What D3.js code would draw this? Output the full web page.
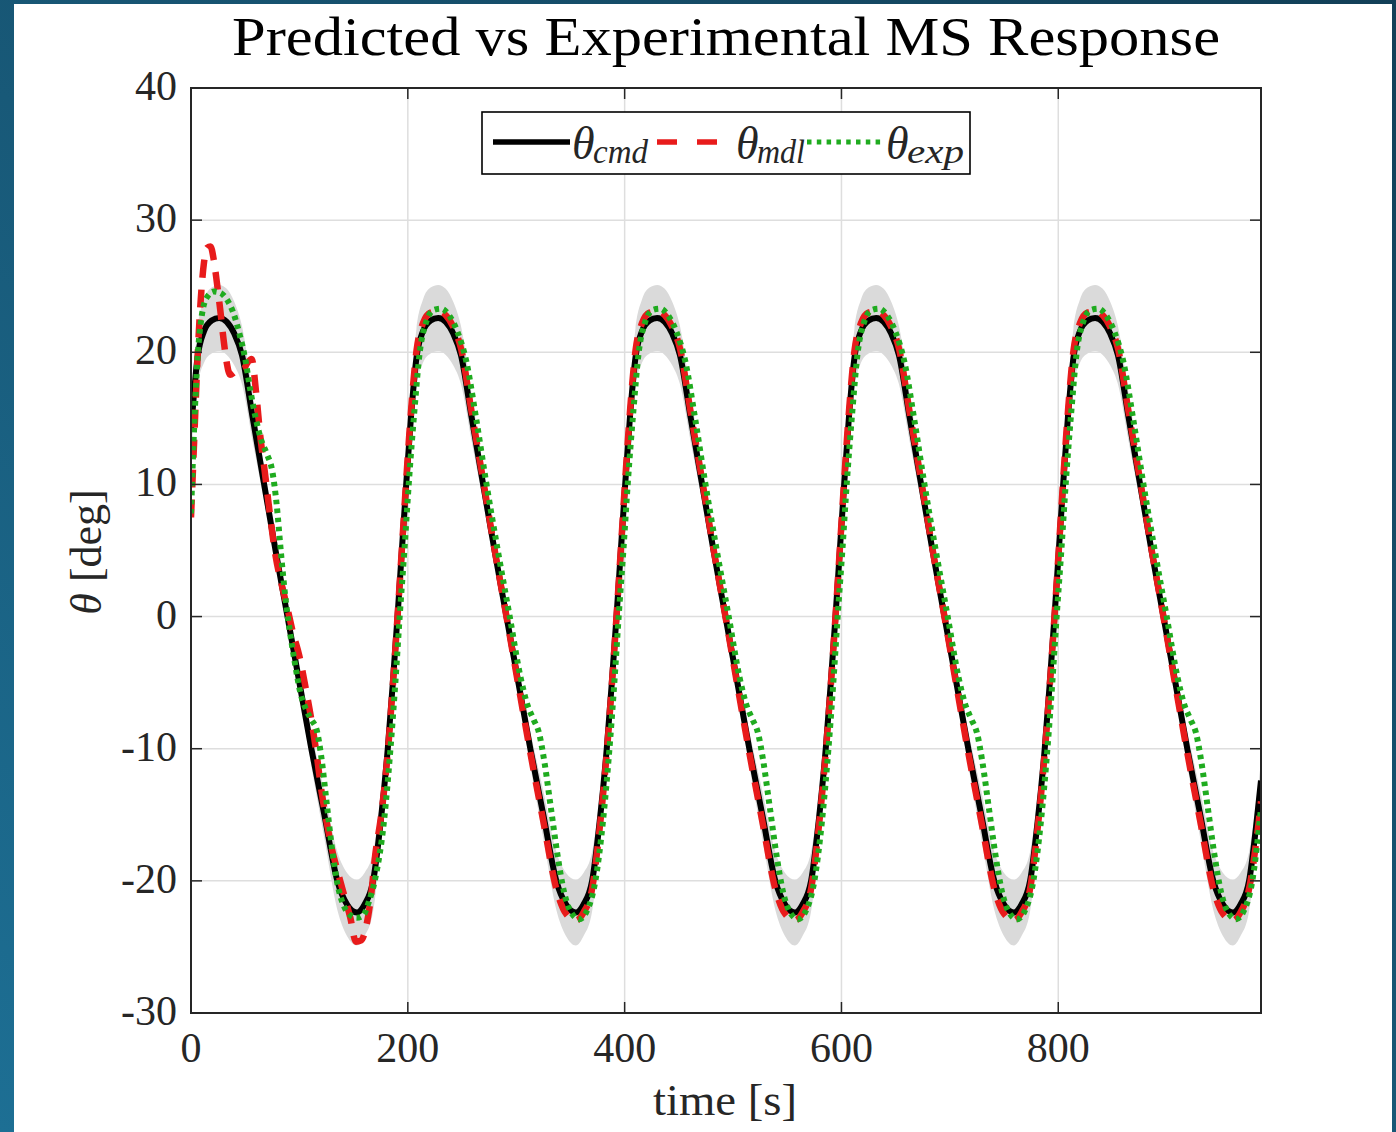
<!DOCTYPE html>
<html>
<head>
<meta charset="utf-8">
<script src="https://cdn.jsdelivr.net/npm/d3@7"></script>
<style>
  body { margin: 0; background: #14475f; }
  svg { display: block; }
  text { font-family: "Liberation Serif", "Times New Roman", serif; fill: #262626; }
</style>
</head>
<body>
<svg id="chart" width="1396" height="1132"></svg>
<script>
// ---- values ----
const xTicks = [0, 200, 400, 600, 800];
const yTicks = [-30, -20, -10, 0, 10, 20, 30, 40];

// commanded angle (knots) and the grey tolerance band around it
const cmdT = [0, 6, 12, 19, 26, 33, 40, 47, 57, 67.5, 78, 89, 100, 111, 123, 135, 144,
  153, 160, 168, 175, 181.5, 186, 190.5, 194.5, 198.5, 203, 208, 214, 221, 228, 235, 242, 249, 259, 269.5, 280, 291, 302, 313, 325, 337, 346,
  355, 362, 370, 377, 383.5, 388, 392.5, 396.5, 400.5, 405, 410, 416, 423, 430, 437, 444, 451, 461, 471.5, 482, 493, 504, 515, 527, 539, 548,
  557, 564, 572, 579, 585.5, 590, 594.5, 598.5, 602.5, 607, 612, 618, 625, 632, 639, 646, 653, 663, 673.5, 684, 695, 706, 717, 729, 741, 750,
  759, 766, 774, 781, 787.5, 792, 796.5, 800.5, 804.5, 809, 814, 820, 827, 834, 841, 848, 855, 865, 875.5, 886, 897, 908, 919, 931, 943, 952,
  961, 968, 976, 983, 987];
const cmdV = [14.0, 19.6, 21.6, 22.4, 22.6, 22.3, 21.4, 19.8, 15.0, 10.0, 5.0, 0, -5.0, -10.0, -15.0, -20.0, -21.8,
  -22.4, -21.8, -20.0, -15.5, -10.0, -5.2, 0, 5.0, 10.0, 15.2, 19.6, 21.6, 22.4, 22.6, 22.3, 21.4, 19.8, 15.0, 10.0, 5.0, 0, -5.0, -10.0, -15.0, -20.0, -21.8,
  -22.4, -21.8, -20.0, -15.5, -10.0, -5.2, 0, 5.0, 10.0, 15.2, 19.6, 21.6, 22.4, 22.6, 22.3, 21.4, 19.8, 15.0, 10.0, 5.0, 0, -5.0, -10.0, -15.0, -20.0, -21.8,
  -22.4, -21.8, -20.0, -15.5, -10.0, -5.2, 0, 5.0, 10.0, 15.2, 19.6, 21.6, 22.4, 22.6, 22.3, 21.4, 19.8, 15.0, 10.0, 5.0, 0, -5.0, -10.0, -15.0, -20.0, -21.8,
  -22.4, -21.8, -20.0, -15.5, -10.0, -5.2, 0, 5.0, 10.0, 15.2, 19.6, 21.6, 22.4, 22.6, 22.3, 21.4, 19.8, 15.0, 10.0, 5.0, 0, -5.0, -10.0, -15.0, -20.0, -21.8,
  -22.4, -21.8, -20.0, -15.5, -12.4];
const bandLo = [12.3, 17.4, 19.2, 19.9, 20.1, 19.8, 19.0, 17.6, 13.2, 8.7, 4.2, -0.3, -5.8, -11.3, -16.8, -22.2, -24.2,
  -24.9, -24.2, -22.3, -17.3, -11.3, -6.0, -0.3, 4.2, 8.7, 13.4, 17.4, 19.2, 19.9, 20.1, 19.8, 19.0, 17.6, 13.2, 8.7, 4.2, -0.3, -5.8, -11.3, -16.8, -22.2, -24.2,
  -24.9, -24.2, -22.3, -17.3, -11.3, -6.0, -0.3, 4.2, 8.7, 13.4, 17.4, 19.2, 19.9, 20.1, 19.8, 19.0, 17.6, 13.2, 8.7, 4.2, -0.3, -5.8, -11.3, -16.8, -22.2, -24.2,
  -24.9, -24.2, -22.3, -17.3, -11.3, -6.0, -0.3, 4.2, 8.7, 13.4, 17.4, 19.2, 19.9, 20.1, 19.8, 19.0, 17.6, 13.2, 8.7, 4.2, -0.3, -5.8, -11.3, -16.8, -22.2, -24.2,
  -24.9, -24.2, -22.3, -17.3, -11.3, -6.0, -0.3, 4.2, 8.7, 13.4, 17.4, 19.2, 19.9, 20.1, 19.8, 19.0, 17.6, 13.2, 8.7, 4.2, -0.3, -5.8, -11.3, -16.8, -22.2, -24.2,
  -24.9, -24.2, -22.3, -17.3, -13.8];
const bandHi = [15.7, 21.8, 24.0, 24.9, 25.1, 24.8, 23.8, 22.0, 16.8, 11.3, 5.8, 0.3, -4.2, -8.7, -13.2, -17.8, -19.4,
  -19.9, -19.4, -17.8, -13.7, -8.7, -4.4, 0.3, 5.8, 11.3, 17.0, 21.8, 24.0, 24.9, 25.1, 24.8, 23.8, 22.0, 16.8, 11.3, 5.8, 0.3, -4.2, -8.7, -13.2, -17.8, -19.4,
  -19.9, -19.4, -17.8, -13.7, -8.7, -4.4, 0.3, 5.8, 11.3, 17.0, 21.8, 24.0, 24.9, 25.1, 24.8, 23.8, 22.0, 16.8, 11.3, 5.8, 0.3, -4.2, -8.7, -13.2, -17.8, -19.4,
  -19.9, -19.4, -17.8, -13.7, -8.7, -4.4, 0.3, 5.8, 11.3, 17.0, 21.8, 24.0, 24.9, 25.1, 24.8, 23.8, 22.0, 16.8, 11.3, 5.8, 0.3, -4.2, -8.7, -13.2, -17.8, -19.4,
  -19.9, -19.4, -17.8, -13.7, -8.7, -4.4, 0.3, 5.8, 11.3, 17.0, 21.8, 24.0, 24.9, 25.1, 24.8, 23.8, 22.0, 16.8, 11.3, 5.8, 0.3, -4.2, -8.7, -13.2, -17.8, -19.4,
  -19.9, -19.4, -17.8, -13.7, -11.0];

// model prediction
const mdlT = [0, 3, 6, 9, 12, 15, 18, 21, 24, 27, 30, 33, 36, 40, 44, 48, 52, 56, 60, 64, 68, 73, 78, 84, 89, 94, 100, 106, 111, 116,
  120, 125, 130, 136, 142, 147, 152, 157, 162, 166, 170, 175, 181.5,
  186, 190.5, 194.5, 198.5, 203, 208, 214, 221, 228, 235, 242, 249, 259, 269.5, 280, 291, 302, 313, 325, 337, 346,
  355, 362, 370, 377, 383.5, 388, 392.5, 396.5, 400.5, 405, 410, 416, 423, 430, 437, 444, 451, 461, 471.5, 482, 493, 504, 515, 527, 539, 548,
  557, 564, 572, 579, 585.5, 590, 594.5, 598.5, 602.5, 607, 612, 618, 625, 632, 639, 646, 653, 663, 673.5, 684, 695, 706, 717, 729, 741, 750,
  759, 766, 774, 781, 787.5, 792, 796.5, 800.5, 804.5, 809, 814, 820, 827, 834, 841, 848, 855, 865, 875.5, 886, 897, 908, 919, 931, 943, 952,
  961, 968, 976, 983, 987];
const mdlV = [7.5, 13.5, 19.5, 24.0, 26.8, 27.9, 28.0, 27.0, 25.2, 23.2, 21.0, 19.2, 18.3, 18.5, 18.8, 18.7, 19.2, 19.5, 17.0, 13.6,
  11.0, 7.6, 4.6, 2.3, 0.6, -1.2, -3.0, -5.5, -7.8, -10.5, -13.0, -15.5, -17.6, -19.5, -21.3, -22.8, -24.6, -24.5, -23.3, -21.2,
  -18.0, -15.3, -10.3,
  -5.4, 0, 5.1, 10.3, 15.6, 20.1, 22.2, 23.0, 23.1, 22.8, 21.9, 20.3, 15.4, 10.3, 5.1, 0, -5.2, -10.3, -15.5, -20.6, -22.5,
  -23.0, -22.4, -20.6, -16.0, -10.3, -5.4, 0, 5.1, 10.3, 15.6, 20.1, 22.2, 23.0, 23.1, 22.8, 21.9, 20.3, 15.4, 10.3, 5.1, 0, -5.2, -10.3, -15.5, -20.6, -22.5,
  -23.0, -22.4, -20.6, -16.0, -10.3, -5.4, 0, 5.1, 10.3, 15.6, 20.1, 22.2, 23.0, 23.1, 22.8, 21.9, 20.3, 15.4, 10.3, 5.1, 0, -5.2, -10.3, -15.5, -20.6, -22.5,
  -23.0, -22.4, -20.6, -16.0, -10.3, -5.4, 0, 5.1, 10.3, 15.6, 20.1, 22.2, 23.0, 23.1, 22.8, 21.9, 20.3, 15.4, 10.3, 5.1, 0, -5.2, -10.3, -15.5, -20.6, -22.5,
  -23.0, -22.4, -20.6, -16.8, -14.0];

// experiment
const expT = [0, 3, 6, 10, 15, 21, 27, 33, 39, 45, 50, 55, 60, 65, 70, 75, 79, 83, 87, 91, 96, 101, 106, 111, 116, 120, 125, 130, 135, 141,
  147, 153, 159, 164, 170,
  178, 184, 188.5, 192.5, 197, 201, 206, 211, 217, 224, 231, 238, 246, 254, 263, 272, 283, 294, 304, 310, 316, 321, 326, 332, 338, 344, 350, 358,
  365, 373, 380, 386, 390.5, 394.5, 399, 403, 408, 413, 419, 426, 433, 440, 448, 456, 465, 474, 485, 496, 506, 512, 518, 523, 528, 534, 540, 546, 552, 560,
  567, 575, 582, 588, 592.5, 596.5, 601, 605, 610, 615, 621, 628, 635, 642, 650, 658, 667, 676, 687, 698, 708, 714, 720, 725, 730, 736, 742, 748, 754, 762,
  769, 777, 784, 790, 794.5, 798.5, 803, 807, 812, 817, 823, 830, 837, 844, 852, 860, 869, 878, 889, 900, 910, 916, 922, 927, 932, 938, 944, 950, 956, 964,
  971, 979, 987];
const expV = [7.8, 14.5, 19.5, 22.8, 24.2, 24.6, 24.5, 24.0, 23.0, 21.3, 19.5, 17.0, 14.9, 13.3, 12.3, 11.0, 8.5, 4.8, 1.5, -1.0,
  -3.6, -5.8, -7.0, -7.8, -8.6, -10.5, -14.0, -17.5, -20.2, -21.9, -22.6, -22.8, -22.6, -21.6, -19.8,
  -15.5, -10.0, -5.0, 0, 5.2, 10.2, 15.5, 20.0, 22.3, 23.2, 23.3, 22.8, 21.5, 19.3, 15.0, 10.3, 5.0, 0, -4.6, -6.6, -7.8, -8.8, -11.0, -14.5, -18.0, -20.8, -22.3, -22.9,
  -22.3, -20.0, -15.5, -10.0, -5.0, 0, 5.2, 10.2, 15.5, 20.0, 22.3, 23.2, 23.3, 22.8, 21.5, 19.3, 15.0, 10.3, 5.0, 0, -4.6, -6.6, -7.8, -8.8, -11.0, -14.5, -18.0, -20.8, -22.3, -22.9,
  -22.3, -20.0, -15.5, -10.0, -5.0, 0, 5.2, 10.2, 15.5, 20.0, 22.3, 23.2, 23.3, 22.8, 21.5, 19.3, 15.0, 10.3, 5.0, 0, -4.6, -6.6, -7.8, -8.8, -11.0, -14.5, -18.0, -20.8, -22.3, -22.9,
  -22.3, -20.0, -15.5, -10.0, -5.0, 0, 5.2, 10.2, 15.5, 20.0, 22.3, 23.2, 23.3, 22.8, 21.5, 19.3, 15.0, 10.3, 5.0, 0, -4.6, -6.6, -7.8, -8.8, -11.0, -14.5, -18.0, -20.8, -22.3, -22.9,
  -22.3, -20.0, -14.5];

// ---- setup ----
const svg = d3.select("#chart");
const W = +svg.attr("width"), H = +svg.attr("height");
const margin = { top: 88, right: 135, bottom: 119, left: 191 };
const width = W - margin.left - margin.right;
const height = H - margin.top - margin.bottom;

// dark page background + white figure
const defs = svg.append("defs");
const grad = defs.append("linearGradient").attr("id", "bg")
  .attr("x1", 1).attr("y1", 0).attr("x2", 0).attr("y2", 1);
grad.append("stop").attr("offset", 0).attr("stop-color", "#123f57");
grad.append("stop").attr("offset", 1).attr("stop-color", "#1d6f94");
svg.append("rect").attr("width", W).attr("height", H).attr("fill", "url(#bg)");
svg.append("rect").attr("x", 14).attr("y", 4).attr("width", 1378).attr("height", H - 4).attr("fill", "#ffffff");

defs.append("clipPath").attr("id", "plotclip")
  .append("rect").attr("width", width).attr("height", height);

const g = svg.append("g").attr("transform", `translate(${margin.left},${margin.top})`);

const x = d3.scaleLinear().domain([0, 987]).range([0, width]);
const y = d3.scaleLinear().domain([-30, 40]).range([height, 0]);

// grid
g.append("g").selectAll("line").data(xTicks.slice(1)).join("line")
  .attr("x1", d => x(d)).attr("x2", d => x(d)).attr("y1", 0).attr("y2", height)
  .attr("stroke", "#dedede").attr("stroke-width", 1.5);
g.append("g").selectAll("line").data(yTicks.slice(1, -1)).join("line")
  .attr("y1", d => y(d)).attr("y2", d => y(d)).attr("x1", 0).attr("x2", width)
  .attr("stroke", "#dedede").attr("stroke-width", 1.5);

// data
const cmd = cmdT.map((t, i) => ({ t, v: cmdV[i], lo: bandLo[i], hi: bandHi[i] }));
const mdl = mdlT.map((t, i) => ({ t, v: mdlV[i] }));
const exp = expT.map((t, i) => ({ t, v: expV[i] }));

const plot = g.append("g").attr("clip-path", "url(#plotclip)");

const band = d3.area().x(d => x(d.t)).y0(d => y(d.lo)).y1(d => y(d.hi)).curve(d3.curveMonotoneX);
const line = d3.line().x(d => x(d.t)).y(d => y(d.v)).curve(d3.curveMonotoneX);

plot.append("path").datum(cmd).attr("d", band).attr("fill", "#dadada");
plot.append("path").datum(cmd).attr("d", line)
  .attr("fill", "none").attr("stroke", "#000").attr("stroke-width", 6);
plot.append("path").datum(mdl).attr("d", line)
  .attr("fill", "none").attr("stroke", "#e81b1b").attr("stroke-width", 6.5)
  .attr("stroke-dasharray", "18,12");
plot.append("path").datum(exp).attr("d", line)
  .attr("fill", "none").attr("stroke", "#1fab1f").attr("stroke-width", 6)
  .attr("stroke-dasharray", "4.5,4.5");

// box + inward ticks on all sides
const axisColor = "#262626";
g.append("rect").attr("width", width).attr("height", height)
  .attr("fill", "none").attr("stroke", axisColor).attr("stroke-width", 2);
const tickLen = 11;
const ticks = g.append("g").attr("stroke", axisColor).attr("stroke-width", 1.5);
xTicks.forEach(d => {
  ticks.append("line").attr("x1", x(d)).attr("x2", x(d)).attr("y1", height).attr("y2", height - tickLen);
  ticks.append("line").attr("x1", x(d)).attr("x2", x(d)).attr("y1", 0).attr("y2", tickLen);
});
yTicks.forEach(d => {
  ticks.append("line").attr("y1", y(d)).attr("y2", y(d)).attr("x1", 0).attr("x2", tickLen);
  ticks.append("line").attr("y1", y(d)).attr("y2", y(d)).attr("x1", width).attr("x2", width - tickLen);
});

// tick labels
g.append("g").selectAll("text").data(xTicks).join("text")
  .attr("x", d => x(d)).attr("y", height + 49)
  .attr("text-anchor", "middle").style("font-size", "42px")
  .text(d => d);
g.append("g").selectAll("text").data(yTicks).join("text")
  .attr("x", -14).attr("y", d => y(d) + 12)
  .attr("text-anchor", "end").style("font-size", "42px")
  .text(d => d);

// title and axis labels
svg.append("text").attr("x", 726).attr("y", 55)
  .attr("text-anchor", "middle").style("font-size", "54px").style("fill", "#000")
  .attr("textLength", 988).attr("lengthAdjust", "spacingAndGlyphs")
  .text("Predicted vs Experimental MS Response");

svg.append("text").attr("x", 725).attr("y", 1115)
  .attr("text-anchor", "middle").style("font-size", "45px")
  .attr("textLength", 144).attr("lengthAdjust", "spacingAndGlyphs")
  .text("time [s]");

const ylab = svg.append("text").attr("transform", "translate(101,552) rotate(-90)")
  .attr("text-anchor", "middle").style("font-size", "44px");
ylab.append("tspan").style("font-style", "italic").text("θ");
ylab.append("tspan").text(" [deg]");

// legend
const lg = svg.append("g");
lg.append("rect").attr("x", 482).attr("y", 112).attr("width", 488).attr("height", 62)
  .attr("fill", "#fff").attr("stroke", "#000").attr("stroke-width", 1.6);
const legendItems = [
  { sub: "cmd", x0: 493, x1: 570, tx: 572, subLen: 55, color: "#000", dash: null, w: 5.5 },
  { sub: "mdl", x0: 657, x1: 717, tx: 736, subLen: 48, color: "#e81b1b", dash: "20,20", w: 5.5 },
  { sub: "exp", x0: 807, x1: 885, tx: 886, subLen: 57, color: "#1fab1f", dash: "4.5,5.3", w: 5 }
];
legendItems.forEach(d => {
  lg.append("line").attr("x1", d.x0).attr("x2", d.x1).attr("y1", 142).attr("y2", 142)
    .attr("stroke", d.color).attr("stroke-width", d.w)
    .attr("stroke-dasharray", d.dash);
  lg.append("text").attr("x", d.tx).attr("y", 159)
    .style("font-size", "46px").style("font-style", "italic").text("θ");
  lg.append("text").attr("x", d.tx + 21).attr("y", 163)
    .style("font-size", "34px").style("font-style", "italic")
    .attr("textLength", d.subLen).attr("lengthAdjust", "spacingAndGlyphs")
    .text(d.sub);
});
</script>
</body>
</html>
